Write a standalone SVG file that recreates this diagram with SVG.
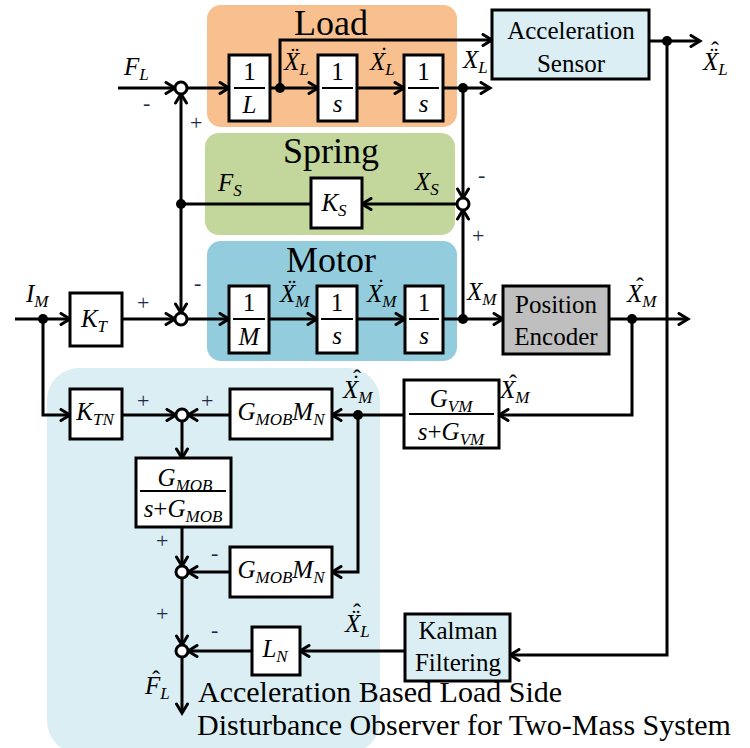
<svg xmlns="http://www.w3.org/2000/svg" width="750" height="748" viewBox="0 0 750 748" font-family="Liberation Serif, Times New Roman, serif">
<defs>
<marker id="ah" markerUnits="userSpaceOnUse" markerWidth="14" markerHeight="14" refX="11" refY="7" orient="auto">
<path d="M2,1.5 L11,7 L2,12.5" fill="none" stroke="#000" stroke-width="3" stroke-linecap="round" stroke-linejoin="miter"/>
</marker>
<style>
text{fill:#000}
.mi{font-style:italic;font-size:25px}
.sb{font-size:17px}
.acc{font-size:24px;font-style:normal}
.ln{stroke:#000;stroke-width:3;fill:none}
.ar{stroke:#000;stroke-width:3;fill:none;marker-end:url(#ah)}
.bx{fill:#fff;stroke:#000;stroke-width:3}
.sum{fill:#fff;stroke:#000;stroke-width:3}
.dot{fill:#000}
.big{font-size:36px}
.lbl{font-size:25px}
.sg{font-size:22px;fill:#1f2a4a}
.fr{stroke:#000;stroke-width:2}
</style>
</defs>
<rect width="750" height="748" fill="#fff"/>
<g id="regions">
<rect x="207" y="5" width="250" height="122" rx="14" fill="#f9c08f"/>
<rect x="205" y="133" width="250" height="102" rx="14" fill="#c3d69b"/>
<rect x="207" y="241" width="250" height="120" rx="14" fill="#93cddd"/>
<rect x="47" y="368" width="333" height="385" rx="32" fill="#daeef3"/>
<text class="big" x="331" y="35" text-anchor="middle">Load</text>
<text class="big" x="331" y="163" text-anchor="middle">Spring</text>
<text class="big" x="331" y="272" text-anchor="middle">Motor</text>
</g>
<g id="connectors">
<line class="ar" x1="118" y1="88" x2="175" y2="88"/>
<line class="ar" x1="187" y1="88" x2="229" y2="88"/>
<line class="ar" x1="270" y1="88" x2="318" y2="88"/>
<line class="ar" x1="357" y1="88" x2="404" y2="88"/>
<line class="ar" x1="443" y1="88" x2="490" y2="88"/>
<polyline class="ar" points="280,88 280,40 492,40"/>
<line class="ar" x1="649" y1="41" x2="700" y2="41"/>
<polyline class="ar" points="667,41 667,655 510,655"/>
<line class="ar" x1="181" y1="204" x2="181" y2="94"/>
<line class="ar" x1="181" y1="204" x2="181" y2="313"/>
<line class="ar" x1="463" y1="88" x2="463" y2="198"/>
<line class="ar" x1="463" y1="319" x2="463" y2="210"/>
<line class="ar" x1="457" y1="204" x2="362" y2="204"/>
<line class="ln" x1="311" y1="204" x2="181" y2="204"/>
<line class="ar" x1="15" y1="319" x2="70" y2="319"/>
<line class="ar" x1="122" y1="319" x2="175" y2="319"/>
<line class="ar" x1="187" y1="319" x2="229" y2="319"/>
<line class="ar" x1="269" y1="319" x2="317" y2="319"/>
<line class="ar" x1="357" y1="319" x2="405" y2="319"/>
<line class="ar" x1="443" y1="319" x2="503" y2="319"/>
<line class="ar" x1="609" y1="319" x2="688" y2="319"/>
<polyline class="ar" points="632,319 632,415 499,415"/>
<polyline class="ar" points="43,319 43,415 70,415"/>
<line class="ar" x1="122" y1="415" x2="176" y2="415"/>
<line class="ar" x1="230" y1="415" x2="188" y2="415"/>
<line class="ln" x1="404" y1="415" x2="358" y2="415"/>
<line class="ar" x1="358" y1="415" x2="332" y2="415"/>
<polyline class="ar" points="358,415 358,572 332,572"/>
<line class="ar" x1="182" y1="421" x2="182" y2="458"/>
<line class="ar" x1="182" y1="527" x2="182" y2="566"/>
<line class="ar" x1="230" y1="572" x2="188" y2="572"/>
<line class="ar" x1="182" y1="578" x2="182" y2="645"/>
<line class="ar" x1="252" y1="651" x2="188" y2="651"/>
<line class="ar" x1="405" y1="651" x2="300" y2="651"/>
<line class="ar" x1="182" y1="657" x2="182" y2="713"/>
<circle class="dot" cx="280" cy="88" r="5"/>
<circle class="dot" cx="463" cy="88" r="5"/>
<circle class="dot" cx="667" cy="41" r="5"/>
<circle class="dot" cx="181" cy="204" r="5"/>
<circle class="dot" cx="43" cy="319" r="5"/>
<circle class="dot" cx="463" cy="319" r="5"/>
<circle class="dot" cx="632" cy="319" r="5"/>
<circle class="dot" cx="358" cy="415" r="5"/>
</g>
<g id="sum_load"><circle class="sum" cx="181" cy="88" r="6"/></g>
<g id="sum_spring"><circle class="sum" cx="463" cy="204" r="6"/></g>
<g id="sum_motor"><circle class="sum" cx="181" cy="319" r="6"/></g>
<g id="sum_obs1"><circle class="sum" cx="182" cy="415" r="6"/></g>
<g id="sum_obs2"><circle class="sum" cx="182" cy="572" r="6"/></g>
<g id="sum_obs3"><circle class="sum" cx="182" cy="651" r="6"/></g>
<g id="box_1L"><rect class="bx" x="229" y="55" width="41" height="66"/><text class="lbl" x="249.5" y="80" text-anchor="middle">1</text><line class="fr" x1="234" y1="88" x2="265" y2="88"/><text class="mi" x="249.5" y="113" text-anchor="middle">L</text></g>
<g id="box_1s_L1"><rect class="bx" x="318" y="55" width="39" height="66"/><text class="lbl" x="337.5" y="80" text-anchor="middle">1</text><line class="fr" x1="322" y1="88" x2="353" y2="88"/><text class="mi" x="337.5" y="112" text-anchor="middle">s</text></g>
<g id="box_1s_L2"><rect class="bx" x="404" y="55" width="39" height="66"/><text class="lbl" x="423.5" y="80" text-anchor="middle">1</text><line class="fr" x1="408" y1="88" x2="439" y2="88"/><text class="mi" x="423.5" y="112" text-anchor="middle">s</text></g>
<g id="accel_sensor"><rect x="492" y="10" width="157" height="69" fill="#daeef3" stroke="#000" stroke-width="3"/><text class="lbl" x="571" y="39" text-anchor="middle">Acceleration</text><text class="lbl" x="571" y="72" text-anchor="middle">Sensor</text></g>
<g id="box_KS"><rect class="bx" x="311" y="178" width="51" height="50"/><text class="mi" x="334" y="211" text-anchor="middle">K<tspan class="sb" dy="5">S</tspan></text></g>
<g id="box_KT"><rect class="bx" x="70" y="293" width="52" height="53"/><text class="mi" x="94" y="327" text-anchor="middle">K<tspan class="sb" dy="5">T</tspan></text></g>
<g id="box_1M"><rect class="bx" x="229" y="286" width="40" height="67"/><text class="lbl" x="249" y="311" text-anchor="middle">1</text><line class="fr" x1="233" y1="319" x2="265" y2="319"/><text class="mi" x="249" y="345" text-anchor="middle">M</text></g>
<g id="box_1s_M1"><rect class="bx" x="317" y="286" width="40" height="67"/><text class="lbl" x="337" y="311" text-anchor="middle">1</text><line class="fr" x1="321" y1="319" x2="353" y2="319"/><text class="mi" x="337" y="344" text-anchor="middle">s</text></g>
<g id="box_1s_M2"><rect class="bx" x="405" y="286" width="38" height="67"/><text class="lbl" x="424" y="311" text-anchor="middle">1</text><line class="fr" x1="409" y1="319" x2="439" y2="319"/><text class="mi" x="424" y="344" text-anchor="middle">s</text></g>
<g id="pos_encoder"><rect x="503" y="286" width="106" height="68" fill="#bfbfbf" stroke="#000" stroke-width="3"/><text class="lbl" x="556" y="313" text-anchor="middle">Position</text><text class="lbl" x="556" y="345" text-anchor="middle">Encoder</text></g>
<g id="box_GVM"><rect class="bx" x="404" y="380" width="95" height="68"/><text class="mi" x="451" y="407" text-anchor="middle">G<tspan class="sb" dy="5">VM</tspan></text><line class="fr" x1="409" y1="414" x2="494" y2="414"/><text class="mi" x="451" y="440" text-anchor="middle">s<tspan font-style="normal">+</tspan>G<tspan class="sb" dy="5">VM</tspan></text></g>
<g id="box_KTN"><rect class="bx" x="70" y="389" width="52" height="50"/><text class="mi" x="95" y="420" text-anchor="middle">K<tspan class="sb" dy="5">TN</tspan></text></g>
<g id="box_GMOBMN1"><rect class="bx" x="230" y="389" width="102" height="50"/><text class="mi" x="281" y="420" text-anchor="middle">G<tspan class="sb" dy="5">MOB</tspan><tspan dy="-5">M</tspan><tspan class="sb" dy="5">N</tspan></text></g>
<g id="box_GMOB_frac"><rect class="bx" x="136" y="458" width="95" height="69"/><text class="mi" x="185" y="486" text-anchor="middle">G<tspan class="sb" dy="5">MOB</tspan></text><line class="fr" x1="140" y1="491" x2="226" y2="491"/><text class="mi" x="183" y="517" text-anchor="middle">s<tspan font-style="normal">+</tspan>G<tspan class="sb" dy="5">MOB</tspan></text></g>
<g id="box_GMOBMN2"><rect class="bx" x="230" y="547" width="102" height="50"/><text class="mi" x="281" y="578" text-anchor="middle">G<tspan class="sb" dy="5">MOB</tspan><tspan dy="-5">M</tspan><tspan class="sb" dy="5">N</tspan></text></g>
<g id="box_LN"><rect class="bx" x="252" y="627" width="48" height="48"/><text class="mi" x="275" y="657" text-anchor="middle">L<tspan class="sb" dy="5">N</tspan></text></g>
<g id="kalman"><rect x="405" y="614" width="105" height="67" fill="#daeef3" stroke="#000" stroke-width="3"/><text class="lbl" x="458" y="639" text-anchor="middle">Kalman</text><text class="lbl" x="458" y="671" text-anchor="middle">Filtering</text></g>
<g id="labels">
<text class="mi" x="124" y="75">F<tspan class="sb" dy="5">L</tspan></text>
<text class="mi" x="284" y="70">X<tspan class="sb" dy="5">L</tspan></text><text class="acc" x="291" y="63">¨</text>
<text class="mi" x="370" y="70">X<tspan class="sb" dy="5">L</tspan></text><text class="acc" x="380" y="63">˙</text>
<text class="mi" x="463" y="68">X<tspan class="sb" dy="5">L</tspan></text>
<text class="mi" x="703" y="70">X<tspan class="sb" dy="5">L</tspan></text><text class="acc" x="710" y="63">¨</text><text class="acc" x="711" y="58">ˆ</text>
<text class="mi" x="218" y="191">F<tspan class="sb" dy="5">S</tspan></text>
<text class="mi" x="415" y="190">X<tspan class="sb" dy="5">S</tspan></text>
<text class="mi" x="26" y="302">I<tspan class="sb" dy="5">M</tspan></text>
<text class="mi" x="280" y="302">X<tspan class="sb" dy="5">M</tspan></text><text class="acc" x="288" y="295">¨</text>
<text class="mi" x="367" y="302">X<tspan class="sb" dy="5">M</tspan></text><text class="acc" x="377" y="295">˙</text>
<text class="mi" x="467" y="300">X<tspan class="sb" dy="5">M</tspan></text>
<text class="mi" x="627" y="302">X<tspan class="sb" dy="5">M</tspan></text><text class="acc" x="636" y="294">ˆ</text>
<text class="mi" x="343" y="398">X<tspan class="sb" dy="5">M</tspan></text><text class="acc" x="352" y="391">˙</text><text class="acc" x="353" y="386">ˆ</text>
<text class="mi" x="500" y="398">X<tspan class="sb" dy="5">M</tspan></text><text class="acc" x="509" y="391">ˆ</text>
<text class="mi" x="345" y="632">X<tspan class="sb" dy="5">L</tspan></text><text class="acc" x="352" y="625">¨</text><text class="acc" x="353" y="620">ˆ</text>
<text class="mi" x="145" y="694">F<tspan class="sb" dy="5">L</tspan></text><text class="acc" x="152" y="687">ˆ</text>
<text style="font-size:30px" x="198" y="702">Acceleration  Based Load Side</text>
<text style="font-size:30px" x="197" y="735">Disturbance Observer for Two-Mass System</text>
</g>
<g id="signs">
<text class="sg" x="143" y="110">-</text>
<text class="sg" x="190" y="130">+</text>
<text class="sg" x="478" y="182">-</text>
<text class="sg" x="472" y="243">+</text>
<text class="sg" x="137" y="310">+</text>
<text class="sg" x="194" y="290">-</text>
<text class="sg" x="137" y="408">+</text>
<text class="sg" x="201" y="408">+</text>
<text class="sg" x="156" y="548">+</text>
<text class="sg" x="211" y="560">-</text>
<text class="sg" x="156" y="621">+</text>
<text class="sg" x="211" y="637">-</text>
</g>
</svg>
